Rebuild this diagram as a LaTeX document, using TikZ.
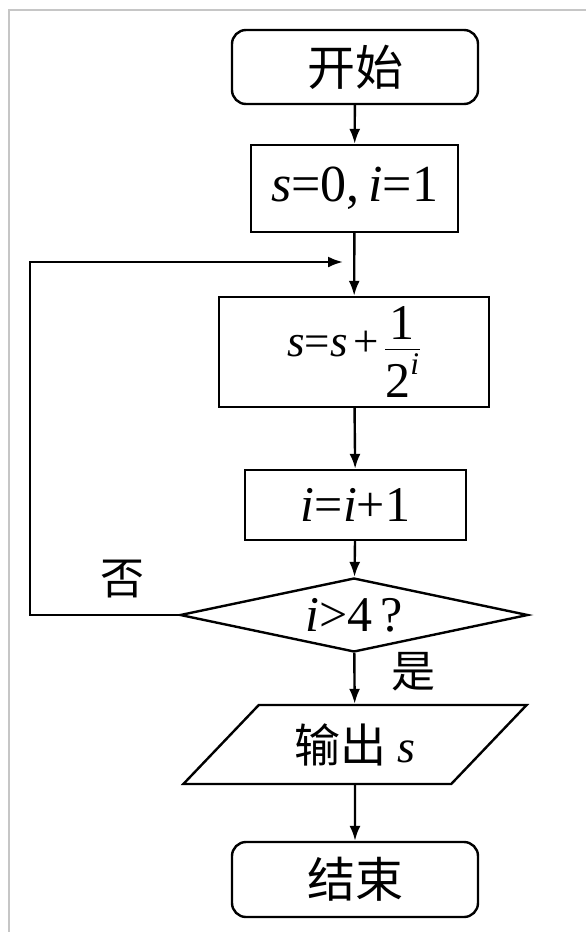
\documentclass[tikz,border=0pt]{standalone}
\usepackage{fontspec}
\usepackage{amsmath}
\setmainfont{Liberation Serif}
\newfontfamily\cjk{Noto Sans CJK SC}
\usetikzlibrary{shapes.geometric,arrows.meta}
\tikzset{
  box/.style={draw, line width=2.4pt, inner sep=0pt, anchor=center},
  term/.style={box, rounded corners=14pt},
  arr/.style={line width=2.4pt, -{Latex[length=15pt,width=11pt]}},
  frame/.style={draw=gray!45, line width=1.6pt},
  lbl/.style={font=\cjk\fontsize{44}{48}\selectfont, inner sep=0pt}
}
\newcommand{\bigdig}[1]{\text{\fontsize{50}{50}\selectfont #1}}
\begin{document}
\begin{tikzpicture}[x=1pt,y=-1pt]
\useasboundingbox (0,0) rectangle (586,932);
\draw[frame] (9,932) -- (9,10) -- (586,10);

\node[term, minimum width=246pt, minimum height=74pt, font=\cjk\fontsize{48}{52}\selectfont] (start) at (355,67) {开始};
\node[box, minimum width=207pt, minimum height=87pt, font=\fontsize{52}{58}\selectfont] (init) at (354.5,188.5) {\textit{s}=0,\,\textit{i}=1};
\node[box, minimum width=270pt, minimum height=110pt, font=\fontsize{45}{50}\selectfont] (upd) at (354,352) {$\textit{s}\text{=}\textit{s}\mathbin{\text{+}}\dfrac{\bigdig{1}}{\bigdig{2}^{\textit{i}}}$};
\node[box, minimum width=221pt, minimum height=70pt, font=\fontsize{50}{56}\selectfont] (inc) at (355.5,505) {\textit{i}=\textit{i}+1};
\node[box, diamond, aspect=4.7, minimum width=348pt, minimum height=74pt, font=\fontsize{50}{56}\selectfont] (dec) at (354,615) {\textit{i}>4\,?};
\node[box, trapezium, trapezium left angle=42, trapezium right angle=138, trapezium stretches=true, minimum width=344pt, minimum height=79pt] (out) at (355,744.5) {\cjk\fontsize{46}{50}\selectfont 输出\ \rmfamily\itshape s};
\node[term, minimum width=246pt, minimum height=75pt, font=\cjk\fontsize{48}{52}\selectfont] (end) at (355,879.5) {结束};

\node[lbl] (no) at (122,579) {否};
\node[lbl] (yes) at (413,672) {是};

\coordinate (lc) at (30,262);
\coordinate (j) at (343,262);

\draw[arr] (start) -- (init);
\draw[arr] (init) -- (upd);
\draw[arr] (upd) -- (inc);
\draw[arr] (inc) -- (dec);
\draw[arr] (dec) -- (out);
\draw[arr] (out) -- (end);
\draw[arr] (dec.west) -| (lc) -- (j);
\end{tikzpicture}
\end{document}
